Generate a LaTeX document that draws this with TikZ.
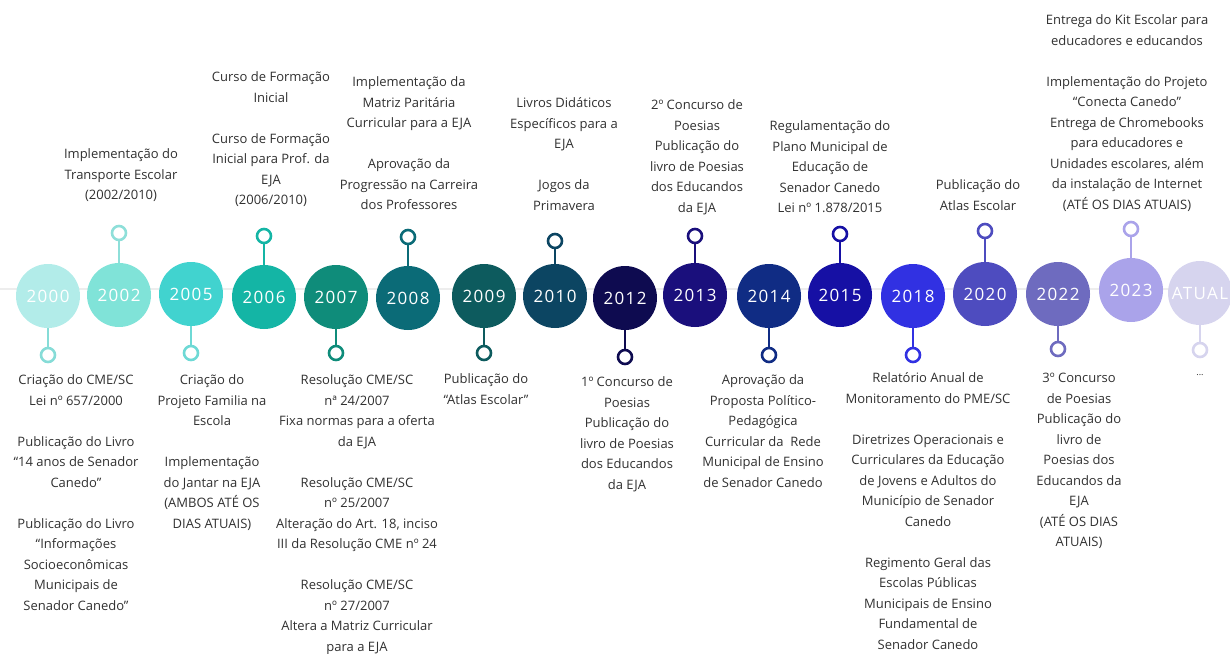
\documentclass[tikz,border=0pt]{standalone}
\usepackage{fontspec}
\setmainfont{Open Sans}
\newfontfamily\yearfont[LetterSpace=8]{Open Sans}
\definecolor{txt}{HTML}{303030}
\definecolor{lineg}{HTML}{EDEDED}
\definecolor{k2000}{HTML}{B2ECE9}\definecolor{s2000}{HTML}{86DCD7}
\definecolor{k2002}{HTML}{80E3D8}\definecolor{s2002}{HTML}{8EDFD9}
\definecolor{k2005}{HTML}{41D3CF}\definecolor{s2005}{HTML}{6ED9D5}
\definecolor{k2006}{HTML}{14B5A5}
\definecolor{k2007}{HTML}{0F8C7A}
\definecolor{k2008}{HTML}{0B6B77}
\definecolor{k2009}{HTML}{0D5B5E}
\definecolor{k2010}{HTML}{0C4562}
\definecolor{k2012}{HTML}{0E0B50}
\definecolor{k2013}{HTML}{1A0F7C}
\definecolor{k2014}{HTML}{102C84}
\definecolor{k2015}{HTML}{1610A4}
\definecolor{k2018}{HTML}{3131E2}
\definecolor{k2020}{HTML}{4E4CBF}
\definecolor{k2022}{HTML}{6E6BBF}
\definecolor{k2023}{HTML}{AAA3EA}
\definecolor{kATUAL}{HTML}{D6D4EE}
\tikzset{
  yearcirc/.style={circle, minimum size=64pt, inner sep=0pt, text=white,
    font=\yearfont\fontsize{17}{17}\selectfont},
  ringmark/.style={circle, minimum size=14pt, inner sep=0pt, line width=2.6pt, fill=white},
  stemline/.style={line width=2.6pt},
  lbl/.style={align=center, inner sep=0pt, anchor=north, text=txt,
    font=\fontsize{13}{20.5}\selectfont},
  gridline/.style={draw=lineg, line width=1.5pt}
}
\newcommand\yearmark[3]{%
  \node[ringmark, draw=#2] (r#1) at (c#1.center |- 0,#3) {};
  \draw[stemline, draw=#2] (c#1) -- (r#1);
}
\newcommand\yearcircle[5]{%
  \node[yearcirc, fill=#4] (c#1) at (#2,#3) {#5};
}
\newcommand\gap{\\[20.5pt]}
\begin{document}
\begin{tikzpicture}[x=1pt,y=-1pt]
\useasboundingbox (0,0) rectangle (1230,653);
\coordinate (lnA) at (0,289);
\coordinate (lnB) at (1230,289);
\draw[gridline] (lnA) -- (lnB);

\yearcircle{2000}{48}{296}{k2000}{2000}
\yearcircle{2002}{119}{295}{k2002}{2002}
\yearcircle{2005}{191}{294}{k2005}{2005}
\yearcircle{2006}{264}{297}{k2006}{2006}
\yearcircle{2007}{336}{297}{k2007}{2007}
\yearcircle{2008}{408}{298}{k2008}{2008}
\yearcircle{2009}{484}{296}{k2009}{2009}
\yearcircle{2010}{555}{296}{k2010}{2010}
\yearcircle{2012}{625}{298}{k2012}{2012}
\yearcircle{2013}{695}{295}{k2013}{2013}
\yearcircle{2014}{769}{296}{k2014}{2014}
\yearcircle{2015}{840}{295}{k2015}{2015}
\yearcircle{2018}{913}{296}{k2018}{2018}
\yearcircle{2020}{985}{294}{k2020}{2020}
\yearcircle{2022}{1058}{294}{k2022}{2022}
\yearcircle{2023}{1131}{290}{k2023}{2023}
\yearcircle{ATUAL}{1200}{293}{kATUAL}{ATUAL}

\yearmark{2000}{s2000}{355}
\yearmark{2002}{s2002}{233}
\yearmark{2005}{s2005}{353}
\yearmark{2006}{k2006}{236}
\yearmark{2007}{k2007}{353}
\yearmark{2008}{k2008}{237}
\yearmark{2009}{k2009}{353}
\yearmark{2010}{k2010}{241}
\yearmark{2012}{k2012}{357}
\yearmark{2013}{k2013}{236}
\yearmark{2014}{k2014}{355}
\yearmark{2015}{k2015}{234}
\yearmark{2018}{k2018}{355}
\yearmark{2020}{k2020}{231}
\yearmark{2022}{k2022}{349}
\yearmark{2023}{k2023}{229}
\yearmark{ATUAL}{kATUAL}{350}

% below labels
\node[lbl] (t2000) at (76,370) {\strut Criação do CME/SC\\Lei nº 657/2000\gap Publicação do Livro\\“14 anos de Senador\\Canedo”\gap Publicação do Livro\\“Informações\\Socioeconômicas\\Municipais de\\Senador Canedo”};
\node[lbl] (t2005) at (212,370) {\strut Criação do\\Projeto Familia na\\Escola\gap Implementação\\do Jantar na EJA\\(AMBOS ATÉ OS\\DIAS ATUAIS)};
\node[lbl] (t2007) at (357,370) {\strut Resolução CME/SC\\nª 24/2007\\Fixa normas para a oferta\\da EJA\gap Resolução CME/SC\\nº 25/2007\\Alteração do Art. 18, inciso\\III da Resolução CME nº 24\gap Resolução CME/SC\\nº 27/2007\\Altera a Matriz Curricular\\para a EJA};
\node[lbl] (t2009) at (486,369) {\strut Publicação do\\“Atlas Escolar”};
\node[lbl] (t2012) at (627,372) {\strut 1º Concurso de\\Poesias\\Publicação do\\livro de Poesias\\dos Educandos\\da EJA};
\node[lbl] (t2014) at (763,370) {\strut Aprovação da\\Proposta Político-\\Pedagógica\\Curricular da~ Rede\\Municipal de Ensino\\de Senador Canedo};
\node[lbl] (t2018) at (928,368) {\strut Relatório Anual de\\Monitoramento do PME/SC\gap Diretrizes Operacionais e\\Curriculares da Educação\\de Jovens e Adultos do\\Município de Senador\\Canedo\gap Regimento Geral das\\Escolas Públicas\\Municipais de Ensino\\Fundamental de\\Senador Canedo};
\node[lbl] (t2022) at (1079,368) {\strut 3º Concurso\\de Poesias\\Publicação do\\livro de\\Poesias dos\\Educandos da\\EJA\\(ATÉ OS DIAS\\ATUAIS)};
\node[lbl, font=\fontsize{9}{12}\selectfont] (tATUAL) at (1200,374) {...};

% above labels
\node[lbl] (t2002) at (121,144) {\strut Implementação do\\Transporte Escolar\\(2002/2010)};
\node[lbl] (t2006) at (271,67) {\strut Curso de Formação\\Inicial\gap Curso de Formação\\Inicial para Prof. da\\EJA\\(2006/2010)};
\node[lbl] (t2008) at (409,72) {\strut Implementação da\\Matriz Paritária\\Curricular para a EJA\gap Aprovação da\\Progressão na Carreira\\dos Professores};
\node[lbl] (t2010) at (564,93) {\strut Livros Didáticos\\Específicos para a\\EJA\gap Jogos da\\Primavera};
\node[lbl] (t2013) at (697,95) {\strut 2º Concurso de\\Poesias\\Publicação do\\livro de Poesias\\dos Educandos\\da EJA};
\node[lbl] (t2015) at (830,116) {\strut Regulamentação do\\Plano Municipal de\\Educação de\\Senador Canedo\\Lei nº 1.878/2015};
\node[lbl] (t2020) at (978,175) {\strut Publicação do\\Atlas Escolar};
\node[lbl] (t2023) at (1127,10) {\strut Entrega do Kit Escolar para\\educadores e educandos\gap Implementação do Projeto\\“Conecta Canedo”\\Entrega de Chromebooks\\para educadores e\\Unidades escolares, além\\da instalação de Internet\\(ATÉ OS DIAS ATUAIS)};
\end{tikzpicture}
\end{document}
